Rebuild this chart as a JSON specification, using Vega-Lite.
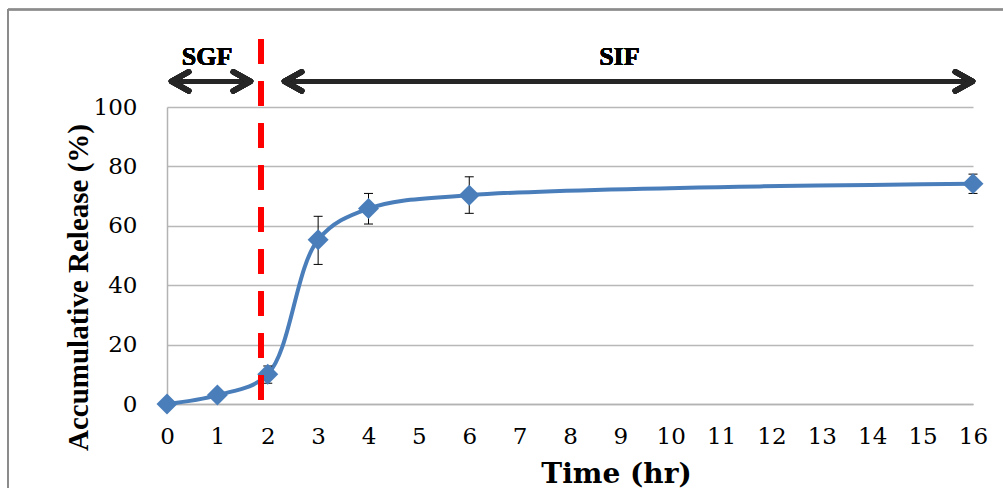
{
  "$schema": "https://vega.github.io/schema/vega-lite/v6.json",
  "width": 806,
  "height": 297,
  "autosize": {"type": "none"},
  "padding": {"left": 167, "top": 107, "right": 30, "bottom": 84},
  "background": "white",
  "config": {"view": {"stroke": null}, "font": "DejaVu Serif"},
  "data": {
    "values": [
      {"time": 0, "release": 0},
      {"time": 1, "release": 3.0},
      {"time": 2, "release": 10.0, "lo": 7.0, "hi": 12.8},
      {"time": 3, "release": 55.3, "lo": 47.0, "hi": 63.2},
      {"time": 4, "release": 65.8, "lo": 60.6, "hi": 70.9},
      {"time": 6, "release": 70.3, "lo": 64.2, "hi": 76.5},
      {"time": 16, "release": 74.2, "lo": 70.9, "hi": 77.4}
    ]
  },
  "layer": [
    {
      "mark": {"type": "rule", "color": "#8c8c8c", "strokeWidth": 1.5},
      "encoding": {
        "x": {"datum": -3.156},
        "y": {"datum": 132.8},
        "y2": {"datum": -40}
      }
    },
    {
      "mark": {"type": "rule", "color": "#8c8c8c", "strokeWidth": 1.5},
      "encoding": {
        "y": {"datum": 132.8},
        "x": {"datum": -3.156},
        "x2": {"datum": 17}
      }
    },
    {
      "mark": {"type": "line", "interpolate": "catmull-rom", "color": "#4a7ebb", "strokeWidth": 4},
      "encoding": {
        "x": {
          "field": "time",
          "type": "quantitative",
          "scale": {"domain": [0, 16], "nice": false, "zero": false},
          "axis": {
            "values": [0, 1, 2, 3, 4, 5, 6, 7, 8, 9, 10, 11, 12, 13, 14, 15, 16],
            "title": "Time (hr)",
            "grid": false,
            "ticks": false,
            "domainColor": "#b3b3b3",
            "domainWidth": 1.5,
            "labelFont": "DejaVu Serif",
            "labelFontSize": 23,
            "labelColor": "#000000",
            "labelPadding": 21,
            "labelFlush": false,
            "labelOverlap": false,
            "titleFont": "DejaVu Serif",
            "titleFontWeight": "bold",
            "titleFontSize": 28,
            "titleColor": "#000000",
            "titleX": 449,
            "titleY": 78,
            "titleBaseline": "alphabetic",
            "titleAlign": "center"
          }
        },
        "y": {
          "field": "release",
          "type": "quantitative",
          "scale": {"domain": [0, 100], "nice": false},
          "axis": {
            "values": [0, 20, 40, 60, 80, 100],
            "title": "Accumulative Release (%)",
            "grid": true,
            "gridColor": "#b8b8b8",
            "gridWidth": 1.3,
            "ticks": false,
            "domainColor": "#b3b3b3",
            "domainWidth": 1.5,
            "labelFont": "DejaVu Serif",
            "labelFontSize": 23,
            "labelColor": "#000000",
            "labelPadding": 30,
            "titleFont": "Liberation Serif",
            "titleFontWeight": "bold",
            "titleFontSize": 29,
            "titleColor": "#000000",
            "titleAngle": -90,
            "titleX": -80,
            "titleY": 180,
            "titleBaseline": "alphabetic",
            "titleAlign": "center"
          }
        }
      }
    },
    {
      "mark": {"type": "rule", "color": "#000000", "strokeWidth": 1},
      "encoding": {
        "x": {"field": "time", "type": "quantitative"},
        "y": {"field": "lo", "type": "quantitative"},
        "y2": {"field": "hi"}
      }
    },
    {
      "mark": {"type": "tick", "orient": "horizontal", "color": "#000000", "size": 9, "thickness": 1, "opacity": 1},
      "encoding": {
        "x": {"field": "time", "type": "quantitative"},
        "y": {"field": "lo", "type": "quantitative"}
      }
    },
    {
      "mark": {"type": "tick", "orient": "horizontal", "color": "#000000", "size": 9, "thickness": 1, "opacity": 1},
      "encoding": {
        "x": {"field": "time", "type": "quantitative"},
        "y": {"field": "hi", "type": "quantitative"}
      }
    },
    {
      "mark": {"type": "point", "shape": "diamond", "filled": true, "size": 440, "color": "#4a7ebb", "opacity": 1},
      "encoding": {
        "x": {"field": "time", "type": "quantitative"},
        "y": {"field": "release", "type": "quantitative"}
      }
    },
    {
      "mark": {"type": "rule", "color": "#ff0000", "strokeWidth": 5.5, "strokeDash": [24, 18]},
      "encoding": {
        "x": {"datum": 1.866},
        "y": {"datum": 122.7},
        "y2": {"datum": 1}
      }
    },
    {
      "mark": {"type": "rule", "color": "#262626", "strokeWidth": 5},
      "encoding": {
        "x": {"datum": 0.12},
        "x2": {"datum": 1.63},
        "y": {"datum": 108.6}
      }
    },
    {
      "mark": {"type": "rule", "color": "#262626", "strokeWidth": 5},
      "encoding": {
        "x": {"datum": 2.36},
        "x2": {"datum": 15.96},
        "y": {"datum": 108.6}
      }
    },
    {
      "mark": {"type": "point", "shape": "M1.8,-1L0,0L1.8,1", "filled": false, "stroke": "#262626", "strokeWidth": 5.5, "size": 361, "strokeCap": "round", "strokeJoin": "round", "opacity": 1},
      "encoding": {
        "x": {"datum": 0.09},
        "y": {"datum": 108.6}
      }
    },
    {
      "mark": {"type": "point", "shape": "M-1.8,-1L0,0L-1.8,1", "filled": false, "stroke": "#262626", "strokeWidth": 5.5, "size": 361, "strokeCap": "round", "strokeJoin": "round", "opacity": 1},
      "encoding": {
        "x": {"datum": 1.657},
        "y": {"datum": 108.6}
      }
    },
    {
      "mark": {"type": "point", "shape": "M1.8,-1L0,0L1.8,1", "filled": false, "stroke": "#262626", "strokeWidth": 5.5, "size": 361, "strokeCap": "round", "strokeJoin": "round", "opacity": 1},
      "encoding": {
        "x": {"datum": 2.333},
        "y": {"datum": 108.6}
      }
    },
    {
      "mark": {"type": "point", "shape": "M-1.8,-1L0,0L-1.8,1", "filled": false, "stroke": "#262626", "strokeWidth": 5.5, "size": 361, "strokeCap": "round", "strokeJoin": "round", "opacity": 1},
      "encoding": {
        "x": {"datum": 15.99},
        "y": {"datum": 108.6}
      }
    },
    {
      "mark": {"type": "text", "text": "SGF", "font": "Liberation Serif", "fontWeight": "bold", "fontSize": 26, "fill": "#000000", "align": "center", "baseline": "alphabetic"},
      "encoding": {
        "x": {"datum": 0.794},
        "y": {"datum": 114.3}
      }
    },
    {
      "mark": {"type": "text", "text": "SIF", "font": "Liberation Serif", "fontWeight": "bold", "fontSize": 26, "fill": "#000000", "align": "center", "baseline": "alphabetic"},
      "encoding": {
        "x": {"datum": 8.98},
        "y": {"datum": 114.3}
      }
    }
  ]
}
